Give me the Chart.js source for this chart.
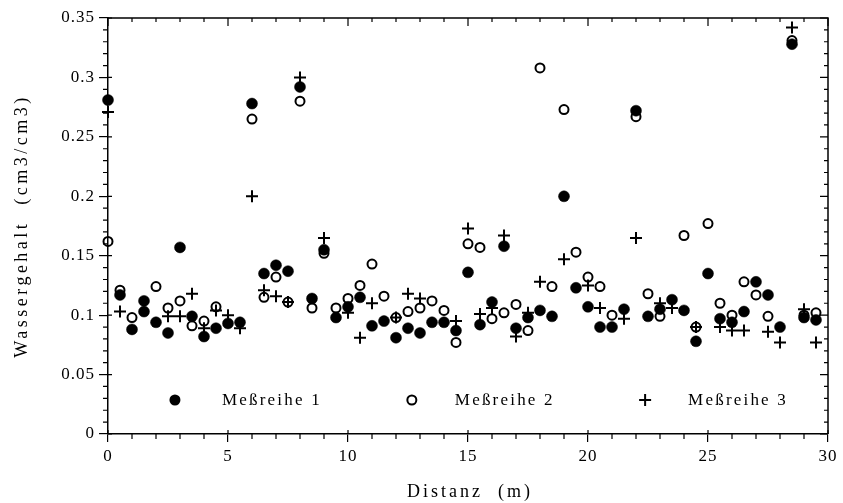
<!DOCTYPE html>
<html>
<head>
<meta charset="utf-8">
<script src="https://cdn.jsdelivr.net/npm/chart.js@4"></script>
<style>
  html, body { margin: 0; padding: 0; background: #ffffff; }
  #wrap { width: 843px; height: 503px; position: relative; }
</style>
</head>
<body>
<div id="wrap"><canvas id="c" width="843" height="503"></canvas></div>
<script>
// ---- data ----
const seriesNames = ['Meßreihe 1', 'Meßreihe 2', 'Meßreihe 3'];
const xTitle = 'Distanz  (m)';
const yTitle = 'Wassergehalt  (cm3/cm3)';

const s1x = [0, 0.5, 1, 1.5, 1.5, 2, 2.5, 3, 3.5, 4, 4.5, 5, 5.5, 6, 6.5, 7, 7.5, 8, 8.5, 9, 9.5, 10, 10.5, 11, 11.5, 12, 12.5, 13, 13.5, 14, 14.5, 15, 15.5, 16, 16.5, 17, 17.5, 18, 18.5, 19, 19.5, 20, 20.5, 21, 21.5, 22, 22.5, 23, 23.5, 24, 24.5, 25, 25.5, 26, 26.5, 27, 27.5, 28, 28.5, 29, 29.5];
const s1y = [0.281, 0.117, 0.088, 0.112, 0.103, 0.094, 0.085, 0.157, 0.099, 0.082, 0.089, 0.093, 0.094, 0.278, 0.135, 0.142, 0.137, 0.292, 0.114, 0.155, 0.098, 0.107, 0.115, 0.091, 0.095, 0.081, 0.089, 0.085, 0.094, 0.094, 0.087, 0.136, 0.092, 0.111, 0.158, 0.089, 0.098, 0.104, 0.099, 0.200, 0.123, 0.107, 0.090, 0.090, 0.105, 0.272, 0.099, 0.105, 0.113, 0.104, 0.078, 0.135, 0.097, 0.094, 0.103, 0.128, 0.117, 0.090, 0.328, 0.098, 0.096];

const s2x = [0, 0.5, 1, 2, 2.5, 3, 3.5, 4, 4.5, 6, 6.5, 7, 7.5, 8, 8.5, 9, 9.5, 10, 10.5, 11, 11.5, 12, 12.5, 13, 13.5, 14, 14.5, 15, 15.5, 16, 16.5, 17, 17.5, 18, 18.5, 19, 19.5, 20, 20.5, 21, 22, 22.5, 23, 24, 24.5, 25, 25.5, 26, 26.5, 27, 27.5, 28.5, 29, 29.5];
const s2y = [0.162, 0.121, 0.098, 0.124, 0.106, 0.112, 0.091, 0.095, 0.107, 0.265, 0.115, 0.132, 0.111, 0.280, 0.106, 0.152, 0.106, 0.114, 0.125, 0.143, 0.116, 0.098, 0.103, 0.106, 0.112, 0.104, 0.077, 0.160, 0.157, 0.097, 0.102, 0.109, 0.087, 0.308, 0.124, 0.273, 0.153, 0.132, 0.124, 0.100, 0.267, 0.118, 0.099, 0.167, 0.090, 0.177, 0.110, 0.100, 0.128, 0.117, 0.099, 0.331, 0.100, 0.102];

const s3x = [0, 0.5, 2.5, 3, 3.5, 4, 4.5, 5, 5.5, 6, 6.5, 7, 7.5, 8, 9, 10, 10.5, 11, 12, 12.5, 13, 14.5, 15, 15.5, 16, 16.5, 17, 17.5, 18, 19, 20, 20.5, 21.5, 22, 23, 23.5, 24.5, 25.5, 26, 26.5, 27.5, 28, 28.5, 29, 29.5];
const s3y = [0.271, 0.103, 0.099, 0.099, 0.118, 0.089, 0.104, 0.100, 0.089, 0.200, 0.121, 0.116, 0.111, 0.300, 0.165, 0.102, 0.081, 0.110, 0.098, 0.118, 0.114, 0.095, 0.173, 0.101, 0.106, 0.167, 0.082, 0.102, 0.128, 0.147, 0.125, 0.106, 0.097, 0.165, 0.110, 0.106, 0.090, 0.090, 0.087, 0.087, 0.086, 0.077, 0.342, 0.105, 0.077];

const xTicks = [0, 5, 10, 15, 20, 25, 30];
const yTicks = [0, 0.05, 0.1, 0.15, 0.2, 0.25, 0.3, 0.35];
const yTickLabels = ['0', '0.05', '0.1', '0.15', '0.2', '0.25', '0.3', '0.35'];
const xMinorStep = 1;
const yMinorStep = 0.01;

const toPts = (xs, ys) => xs.map((x, i) => ({ x: x, y: ys[i] }));

const FONT = 'Liberation Serif, Times New Roman, serif';

const spacing = {
  id: 'spacing',
  beforeDraw(chart) { chart.ctx.letterSpacing = '1px'; }
};

// minor ticks, frame, axis titles and in-plot legend
const decor = {
  id: 'decor',
  afterDraw(chart) {
    const ctx = chart.ctx;
    const a = chart.chartArea;
    const xs = chart.scales.x, ys = chart.scales.y;
    ctx.save();
    ctx.strokeStyle = '#000';
    ctx.lineWidth = 1.5;
    ctx.beginPath();
    ctx.moveTo(a.left, a.top); ctx.lineTo(a.right, a.top); ctx.lineTo(a.right, a.bottom);
    ctx.stroke();
    ctx.lineWidth = 1.2;
    ctx.beginPath();
    for (let v = 0; v <= ys.max + 1e-9; v += yMinorStep) {
      const p = ys.getPixelForValue(v);
      const major = yTicks.some(t => Math.abs(t - v) < 1e-6);
      ctx.moveTo(a.left - (major ? 0 : 5), p); ctx.lineTo(a.left + (major ? 4 : 0), p);
      ctx.moveTo(a.right, p); ctx.lineTo(a.right - (major ? 8 : 4), p);
    }
    for (let v = 0; v <= xs.max + 1e-9; v += xMinorStep) {
      const p = xs.getPixelForValue(v);
      const major = xTicks.some(t => Math.abs(t - v) < 1e-6);
      ctx.moveTo(p, a.bottom + (major ? 0 : 5)); ctx.lineTo(p, a.bottom - (major ? 4 : 0));
      ctx.moveTo(p, a.top); ctx.lineTo(p, a.top + (major ? 8 : 4));
    }
    ctx.stroke();

    ctx.fillStyle = '#000';
    ctx.textBaseline = 'middle';
    ctx.textAlign = 'center';
    // axis titles
    ctx.font = '18px ' + FONT;
    ctx.letterSpacing = '3px';
    ctx.fillText(xTitle, (a.left + a.right) / 2 + 2, 492);
    ctx.save();
    ctx.translate(22, (a.top + a.bottom) / 2);
    ctx.rotate(-Math.PI / 2);
    ctx.letterSpacing = '3.5px';
    ctx.fillText(yTitle, 0, 0);
    ctx.restore();

    // legend inside plot
    const ly = a.bottom - 34;
    const w = a.right - a.left;
    const mx = [a.left + w * 0.093, a.left + w * 0.422, a.left + w * 0.746];
    ctx.textAlign = 'left';
    ctx.font = '17px ' + FONT;
    ctx.letterSpacing = '2.2px';
    ctx.beginPath(); ctx.arc(mx[0], ly, 5.5, 0, Math.PI * 2); ctx.fill();
    ctx.lineWidth = 2;
    ctx.beginPath(); ctx.arc(mx[1], ly, 4.5, 0, Math.PI * 2); ctx.stroke();
    ctx.beginPath();
    ctx.moveTo(mx[2] - 6, ly); ctx.lineTo(mx[2] + 6, ly);
    ctx.moveTo(mx[2], ly - 6); ctx.lineTo(mx[2], ly + 6);
    ctx.stroke();
    const offs = [47, 43, 43];
    seriesNames.forEach((n, i) => ctx.fillText(n, mx[i] + offs[i], ly + 1));
    ctx.restore();
  }
};

new Chart(document.getElementById('c'), {
  type: 'scatter',
  data: {
    datasets: [
      { label: seriesNames[0], data: toPts(s1x, s1y), clip: false, pointStyle: 'circle', pointRadius: 5.5, pointBackgroundColor: '#000', pointBorderColor: '#000', pointBorderWidth: 0.5 },
      { label: seriesNames[1], data: toPts(s2x, s2y), clip: false, pointStyle: 'circle', pointRadius: 4.5, pointBackgroundColor: 'rgba(0,0,0,0)', pointBorderColor: '#000', pointBorderWidth: 2 },
      { label: seriesNames[2], data: toPts(s3x, s3y), clip: false, pointStyle: 'cross', pointRadius: 6, pointBorderColor: '#000', pointBorderWidth: 2 }
    ]
  },
  options: {
    responsive: false,
    animation: false,
    devicePixelRatio: 1,
    layout: { padding: { top: 18, right: 15, left: 0, bottom: 0 } },
    plugins: { legend: { display: false }, tooltip: { enabled: false } },
    scales: {
      x: {
        type: 'linear', min: 0, max: 30,
        afterBuildTicks: s => { s.ticks = xTicks.map(v => ({ value: v })); },
        afterFit: s => { s.height = 69; },
        ticks: { color: '#000', font: { family: FONT, size: 17 }, padding: 4, maxRotation: 0 },
        grid: { display: true, drawOnChartArea: false, drawTicks: true, tickLength: 8, color: '#000', lineWidth: 1.2 },
        border: { display: true, color: '#000', width: 1.5 },
        title: { display: false }
      },
      y: {
        type: 'linear', min: 0, max: 0.35,
        afterBuildTicks: s => { s.ticks = yTicks.map(v => ({ value: v })); },
        afterFit: s => { s.width = 108; },
        ticks: { color: '#000', font: { family: FONT, size: 17 }, padding: 4,
          callback: (v, i) => yTickLabels[i] },
        grid: { display: true, drawOnChartArea: false, drawTicks: true, tickLength: 9, color: '#000', lineWidth: 1.2 },
        border: { display: true, color: '#000', width: 1.5 },
        title: { display: false }
      }
    }
  },
  plugins: [spacing, decor]
});
</script>
</body>
</html>
